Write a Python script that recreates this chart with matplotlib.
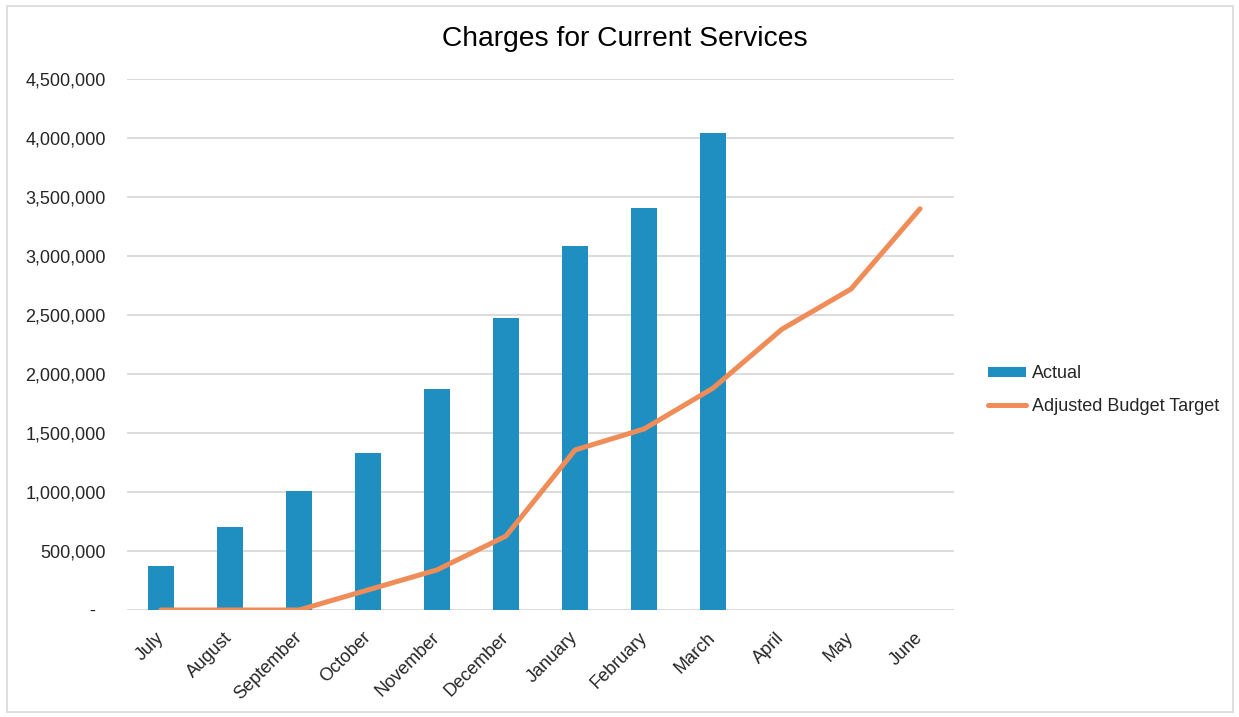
import numpy as np
import matplotlib
matplotlib.use("Agg")
import matplotlib.pyplot as plt
from matplotlib.ticker import FuncFormatter, MultipleLocator
from matplotlib.patches import Rectangle

plt.rcParams['font.family'] = ['Liberation Sans', 'DejaVu Sans']

# fiscal year months and monthly cumulative figures
months = ['July', 'August', 'September', 'October', 'November', 'December',
          'January', 'February', 'March', 'April', 'May', 'June']
actual = [373000, 703000, 1005000, 1330000, 1873000, 2475000,
          3085000, 3410000, 4040000]
budget_target = [0, 0, 0, 170000, 340000, 627000, 1356000, 1534000,
                 1880000, 2380000, 2720000, 3400000]

bar_color = '#1f8fc1'
line_color = '#ef8c58'
grid_color = '#d9d9d9'
text_color = '#262626'

fig = plt.figure(figsize=(12.39, 7.17), dpi=100)
ax = fig.add_axes([126.5 / 1239, 107 / 717, 828 / 1239, 531 / 717])

x = np.arange(len(months))
bars = ax.bar(x[:len(actual)], actual, width=0.39, color=bar_color, label='Actual', zorder=2)
line, = ax.plot(x, budget_target, color=line_color, linewidth=3.6, solid_capstyle='round',
                label='Adjusted Budget Target', zorder=3)

ax.set_xlim(-0.5, len(months) - 0.5)
ax.set_ylim(0, 4500000)
ax.yaxis.set_major_locator(MultipleLocator(500000))
ax.yaxis.set_major_formatter(FuncFormatter(lambda v, p: '-  ' if v == 0 else f'{v:,.0f}'))
ax.grid(axis='y', color=grid_color, linewidth=1.3, zorder=0)
ax.set_axisbelow(True)
for s in ax.spines.values():
    s.set_visible(False)

ax.tick_params(axis='y', length=0, pad=15, labelsize=13, labelcolor=text_color)
ax.tick_params(axis='x', length=0, pad=18, labelsize=13, labelcolor=text_color)
ax.set_xticks(x)
ax.set_xticklabels(months, rotation=45, ha='right', va='center', rotation_mode='anchor')

fig.text(0.504, 0.946, 'Charges for Current Services', ha='center', va='center',
         fontsize=20.3, color='#000000')

fig.legend([bars, line], ['Actual', 'Adjusted Budget Target'],
           loc='center left', bbox_to_anchor=(972 / 1239, 1 - 390 / 717), frameon=False,
           fontsize=13, handlelength=2.1, handleheight=0.45, handletextpad=0.3,
           labelspacing=0.85, labelcolor=text_color)

# light frame round the whole chart area
fig.patches.append(Rectangle((7 / 1239, 5 / 717), 1226 / 1239, 706 / 717,
                             transform=fig.transFigure, fill=False,
                             edgecolor=grid_color, linewidth=1.2))

fig.savefig('out.png', dpi=100, facecolor='white')
